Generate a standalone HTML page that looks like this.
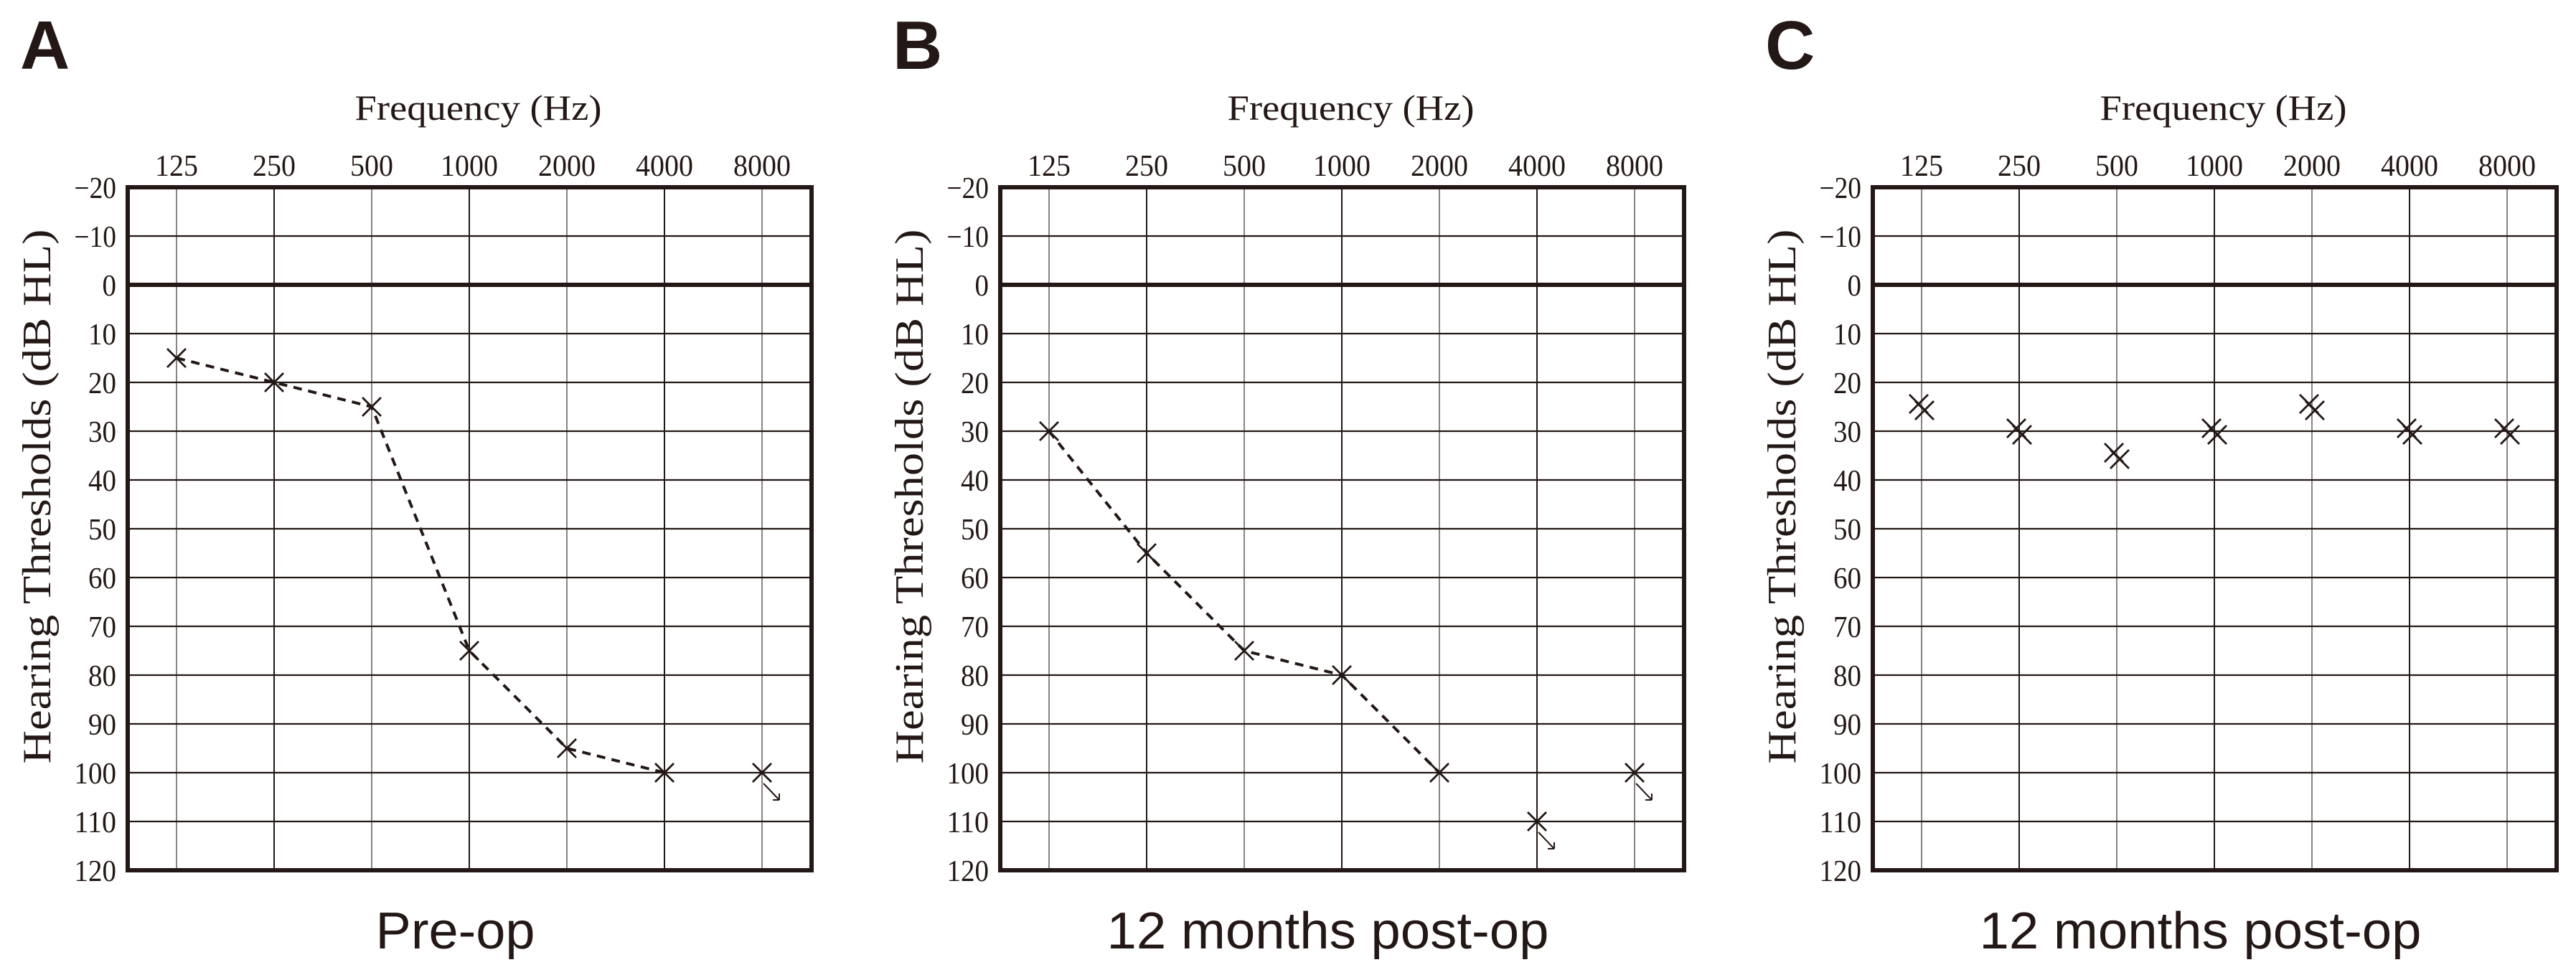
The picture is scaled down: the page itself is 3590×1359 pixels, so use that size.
<!DOCTYPE html>
<html><head><meta charset="utf-8"><style>
html,body{margin:0;padding:0;background:#fff;}
svg{display:block;}
text{fill:#231815;}
</style></head><body>
<svg id="fig" xmlns="http://www.w3.org/2000/svg" width="3590" height="1359" viewBox="0 0 3590 1359"></svg>
<script>
// ---- data ----
const freqLabels = ["125","250","500","1000","2000","4000","8000"];
const dbTicks = [-20,-10,0,10,20,30,40,50,60,70,80,90,100,110,120];
const panelLetters = ["A","B","C"];
const panelCaptions = ["Pre-op","12 months post-op","12 months post-op"];
const preopValues = [15,20,25,75,95,100,100];
const preopNoResponse = [false,false,false,false,false,false,true];
const postopBValues = [30,55,75,80,100,110,100];
const postopBNoResponse = [false,false,false,false,false,true,true];
const postopCRight = [25,30,35,30,25,30,30];
const postopCLeft = [25,30,35,30,25,30,30];

const NS = "http://www.w3.org/2000/svg";
const svg = document.getElementById('fig');
const C = "#231815";
function mk(tag, attrs, parent){
  const e = document.createElementNS(NS, tag);
  for (const k in attrs) e.setAttribute(k, attrs[k]);
  (parent||svg).appendChild(e);
  return e;
}
const panelLefts = [178,1394,2610];
const TOP = 261, STEP_X = 136, DB_PX = 6.8, W = 953, H = 952;

function drawPanel(p, values, noResp, connect, doubleValues){
  const L = panelLefts[p];
  const x = i => L + 68 + STEP_X*i;
  const y = v => TOP + (v + 20) * DB_PX;
  const g = mk('g', {});
  
  

  const lt = mk('text', {x: L - 150, y: 96, 'font-family': 'Liberation Sans, sans-serif', 'font-weight': 'bold', 'font-size': 96}, g);
  lt.textContent = panelLetters[p];
  
  

  const xt = mk('text', {x: L + W/2 + 12, y: 167, 'text-anchor': 'middle', 'font-family': 'Liberation Serif, serif', 'font-size': 50, textLength: 344, lengthAdjust: 'spacingAndGlyphs'}, g);
  xt.textContent = 'Frequency (Hz)';
  
  

  const cy = 692, cx = L - 108;
  const yt = mk('text', {x: cx, y: cy, 'text-anchor': 'middle', transform: `rotate(-90 ${cx} ${cy})`, 'font-family': 'Liberation Serif, serif', 'font-size': 56, textLength: 745, lengthAdjust: 'spacingAndGlyphs'}, g);
  yt.textContent = 'Hearing Thresholds (dB HL)';
  
  

  freqLabels.forEach((f, i) => {
    const ln = mk('line', {x1: x(i), x2: x(i), y1: TOP, y2: TOP + H, stroke: i % 2 === 0 ? '#6f6363' : C, 'stroke-width': i % 2 === 0 ? 1.6 : 2}, g);
    
    
    const t = mk('text', {x: x(i), y: 245, 'text-anchor': 'middle', 'font-family': 'Liberation Serif, serif', 'font-size': 42, textLength: f.length === 4 ? 80 : 60, lengthAdjust: 'spacingAndGlyphs'}, g);
    t.textContent = f;
    
    
  });
  dbTicks.forEach(v => {
    if (v !== -20 && v !== 120) {
      const ln = mk('line', {x1: L, x2: L + W, y1: y(v), y2: y(v), stroke: C, 'stroke-width': v === 0 ? 6 : 2.2}, g);
      
      
    }
    const s = String(v).replace('-', '\u2212');
    const t = mk('text', {x: L - 16, y: y(v) + 15, 'text-anchor': 'end', 'font-family': 'Liberation Serif, serif', 'font-size': 42, textLength: s.length * 19.5, lengthAdjust: 'spacingAndGlyphs'}, g);
    t.textContent = s;
    
    
  });
  const fr = mk('rect', {x: L, y: TOP, width: W, height: H, fill: 'none', stroke: C, 'stroke-width': 6}, g);
  
  

  if (values && connect) {
    const pts = [];
    values.forEach((v, i) => { if (!noResp[i]) pts.push(x(i) + ',' + y(v)); });
    const pl = mk('polyline', {points: pts.join(' '), fill: 'none', stroke: C, 'stroke-width': 4, 'stroke-dasharray': '12 9'}, g);
    
    
  }
  function cross(cx, cy, hs, name){
    const c = mk('path', {d: `M${cx-hs},${cy-hs}L${cx+hs},${cy+hs}M${cx+hs},${cy-hs}L${cx-hs},${cy+hs}`, stroke: C, 'stroke-width': 2.8, fill: 'none'}, g);
    
    
  }
  if (values) {
    values.forEach((v, i) => {
      const px = x(i), py = y(v);
      cross(px, py, 13, 'threshold-marker');
      if (noResp[i]) {
        const a = mk('path', {d: `M${px+2},${py+15}L${px+24},${py+38}M${px+24},${py+38}L${px+24},${py+29}M${px+24},${py+38}L${px+15},${py+38}`, stroke: C, 'stroke-width': 2, fill: 'none'}, g);
        
        
      }
    });
  }
  if (doubleValues) {
    doubleValues[0].forEach((v, i) => cross(x(i) - 4, y(v) - 4, 13, 'threshold-marker-right'));
    doubleValues[1].forEach((v, i) => cross(x(i) + 4, y(v) + 5, 13, 'threshold-marker-left'));
  }
  const cap = panelCaptions[p];
  const ct = mk('text', {x: L + W/2 - 20, y: 1322, 'text-anchor': 'middle', 'font-family': 'Liberation Sans, sans-serif', 'font-size': 72, textLength: cap.length > 8 ? 616 : 222, lengthAdjust: 'spacingAndGlyphs'}, g);
  ct.textContent = cap;
  
  
}
drawPanel(0, preopValues, preopNoResponse, true, null);
drawPanel(1, postopBValues, postopBNoResponse, true, null);
drawPanel(2, null, null, false, [postopCRight, postopCLeft]);
</script>
</body></html>
